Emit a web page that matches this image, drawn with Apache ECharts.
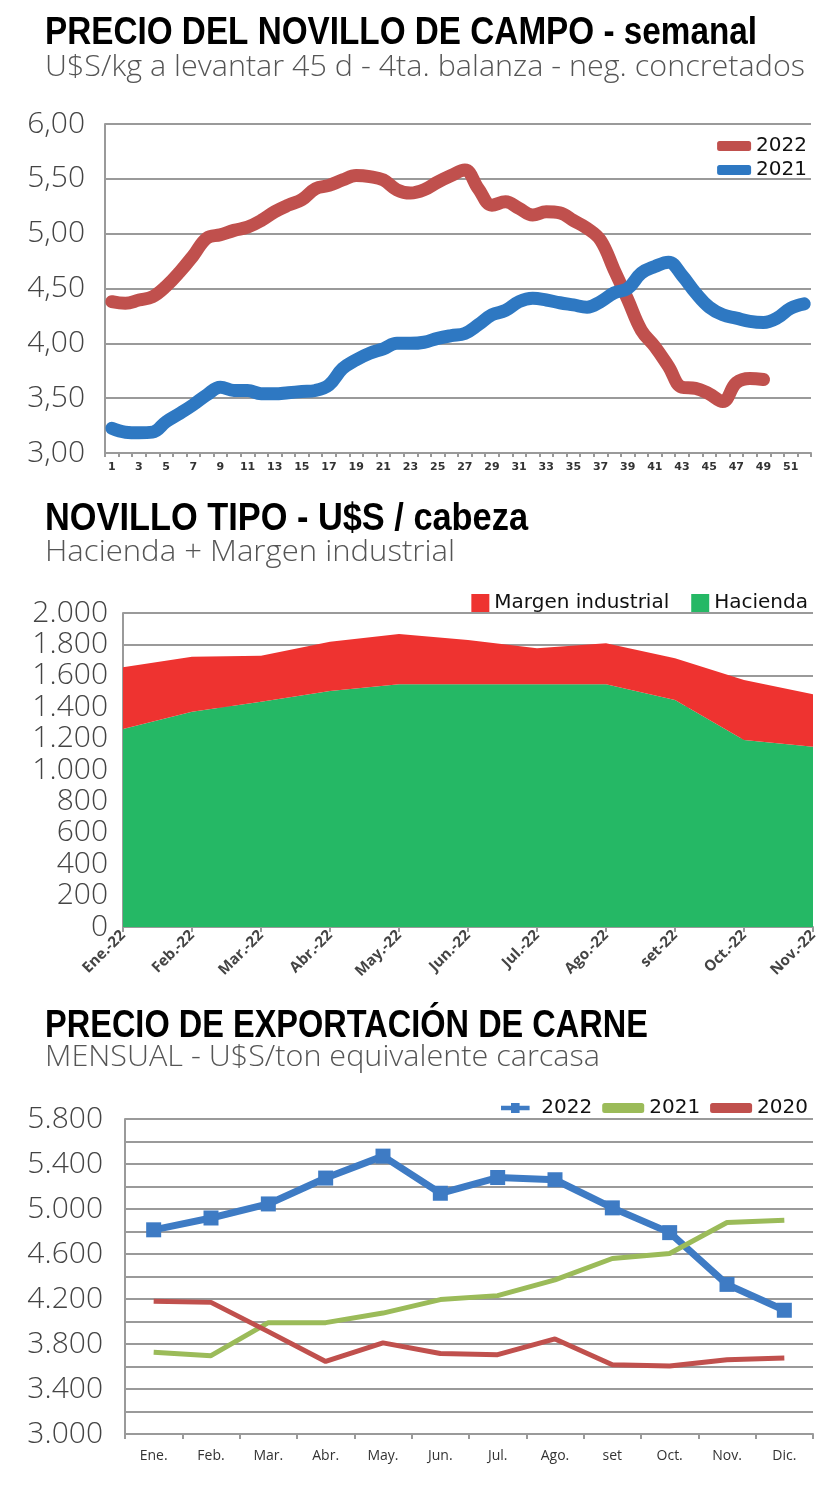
<!DOCTYPE html>
<html><head><meta charset="utf-8">
<script src="https://cdn.jsdelivr.net/npm/echarts@6/dist/echarts.min.js"></script>
<style>html,body{margin:0;padding:0;background:#fff}#c{width:840px;height:1495px}</style>
</head><body><div id="c"></div>
<script>
// ---- Chart 1: weekly steer price ----
const weeks = ['1','2','3','4','5','6','7','8','9','10','11','12','13','14','15','16','17','18','19','20','21','22','23','24','25','26','27','28','29','30','31','32','33','34','35','36','37','38','39','40','41','42','43','44','45','46','47','48','49','50','51','52'];
const precio2022 = [4.38,4.365,4.395,4.425,4.52,4.65,4.80,4.96,4.99,5.03,5.06,5.12,5.20,5.26,5.31,5.41,5.44,5.49,5.53,5.52,5.49,5.40,5.37,5.40,5.47,5.53,5.58,5.41,5.26,5.29,5.23,5.17,5.20,5.19,5.12,5.05,4.94,4.67,4.40,4.12,3.97,3.79,3.60,3.59,3.54,3.47,3.64,3.68,3.67];
const precio2021 = [3.225,3.19,3.185,3.19,3.285,3.36,3.44,3.53,3.60,3.57,3.57,3.54,3.54,3.55,3.56,3.57,3.62,3.77,3.85,3.91,3.95,4.00,4.00,4.01,4.045,4.07,4.09,4.17,4.26,4.30,4.38,4.41,4.395,4.37,4.35,4.33,4.38,4.46,4.50,4.64,4.70,4.74,4.62,4.46,4.33,4.26,4.23,4.20,4.19,4.23,4.32,4.36];

// ---- Chart 2: novillo tipo ----
const meses22 = ['Ene.-22','Feb.-22','Mar.-22','Abr.-22','May.-22','Jun.-22','Jul.-22','Ago.-22','set-22','Oct.-22','Nov.-22'];
const hacienda = [1261,1371,1435,1503,1546,1546,1546,1546,1446,1191,1148];
const margen = [393,351,293,314,320,282,229,261,265,382,334];

// ---- Chart 3: export price ----
const meses = ['Ene.','Feb.','Mar.','Abr.','May.','Jun.','Jul.','Ago.','set','Oct.','Nov.','Dic.'];
const exp2022 = [4815,4920,5045,5275,5470,5140,5280,5260,5010,4790,4330,4100];
const exp2021 = [3726,3696,3990,3990,4075,4195,4230,4370,4560,4605,4880,4900];
const exp2020 = [4180,4170,3910,3645,3810,3715,3705,3845,3615,3605,3660,3675];

const chart = echarts.init(document.getElementById('c'), null, {renderer:'canvas'});
const TF = "'Liberation Sans',Arial,sans-serif";
const LABF = "'Open Sans','Liberation Sans',sans-serif";
const LEGF = "'DejaVu Sans',sans-serif";
const gridLine = {show:true, lineStyle:{color:'#9a9a9a', width:2}};
const axLine = {show:true, lineStyle:{color:'#9a9a9a', width:2}};
const yLab = (m, fmt) => ({color:'#444', fontSize:30, fontFamily:LABF, fontWeight:300, margin:m, verticalAlign:'middle', padding:[0,0,20,0], formatter:fmt});
const dotThousands = v => { const s = String(Math.round(v)); return s.length>3 ? s.slice(0,s.length-3)+'.'+s.slice(-3) : s; };

const mctx = document.createElement('canvas').getContext('2d');
function title(text, x, y, w, size, bold, color){
  const font = (bold ? 'bold ' : '300 ') + size + 'px ' + (bold ? TF : LABF);
  mctx.font = font;
  const s = w / mctx.measureText(text).width;
  return {type:'text', x:x, y:y, scaleX:s, style:{text:text, font:font, fill:color, verticalAlign:'top', align:'left'}};
}

chart.setOption({
  animation:false,
  backgroundColor:'#fff',
  graphic:[
    title('PRECIO DEL NOVILLO DE CAMPO - semanal', 45, 15, 712, 38, true, '#000'),
    title('U$S/kg a levantar 45 d - 4ta. balanza - neg. concretados', 45, 53, 760, 29, false, '#555'),
    title('NOVILLO TIPO - U$S / cabeza', 45, 501, 483, 38, true, '#000'),
    title('Hacienda + Margen industrial', 45, 538, 410, 29, false, '#555'),
    title('PRECIO DE EXPORTACIÓN DE CARNE', 45, 1008, 603, 38, true, '#000'),
    title('MENSUAL - U$S/ton equivalente carcasa', 45, 1043, 555, 29, false, '#555')
  ],
  legend:[
    {data:[{name:'2022'},{name:'2021'}], orient:'vertical', right:28, top:131, itemGap:4,
     icon:'roundRect', itemWidth:34, itemHeight:10, textStyle:{fontSize:20, color:'#111', fontFamily:LEGF}},
    {data:['Margen industrial','Hacienda'], right:27, top:588, itemGap:22, icon:'rect', itemWidth:18, itemHeight:18,
     textStyle:{fontSize:20, color:'#111', fontFamily:LEGF}},
    {data:[{name:'E2022', icon:'path://M0,4L14,4L14,0L26,0L26,4L40,4L40,10L26,10L26,14L14,14L14,10L0,10Z'},{name:'E2021', icon:'roundRect'},{name:'E2020', icon:'roundRect'}],
     right:27, top:1093, itemGap:10, itemWidth:42, itemHeight:10,
     formatter: n => n.slice(1), textStyle:{fontSize:20, color:'#111', fontFamily:LEGF}}
  ],
  grid:[
    {left:105, right:29, top:124, height:329},
    {left:123, right:27, top:613, height:314},
    {left:125, right:27, top:1119, height:315}
  ],
  xAxis:[
    {gridIndex:0, type:'category', data:weeks, boundaryGap:true, axisLine:axLine,
     axisTick:{show:true, interval:0, length:4, lineStyle:{color:'#9a9a9a', width:2}},
     axisLabel:{interval:1, fontSize:11, fontWeight:'bold', color:'#333', margin:9, fontFamily:"'DejaVu Sans',sans-serif"},
     splitLine:{show:false}},
    {gridIndex:1, type:'category', data:meses22, boundaryGap:false, axisLine:axLine,
     axisTick:{show:true, length:5, lineStyle:{color:'#9a9a9a', width:2}},
     axisLabel:{interval:0, rotate:45, fontSize:15, fontWeight:'bold', color:'#444', margin:6, fontFamily:LABF},
     splitLine:{show:false}},
    {gridIndex:2, type:'category', data:meses, boundaryGap:true, axisLine:axLine,
     axisTick:{show:true, length:5, lineStyle:{color:'#9a9a9a', width:2}},
     axisLabel:{interval:0, fontSize:14, color:'#333', margin:15, fontFamily:LABF},
     splitLine:{show:false}}
  ],
  yAxis:[
    {gridIndex:0, type:'value', min:3, max:6, interval:0.5, axisLine:axLine, axisTick:{show:false},
     splitLine:gridLine, axisLabel:yLab(20, v => v.toFixed(2).replace('.',','))},
    {gridIndex:1, type:'value', min:0, max:2000, interval:200, axisLine:axLine, axisTick:{show:false},
     splitLine:gridLine, axisLabel:yLab(15, dotThousands)},
    {gridIndex:2, type:'value', min:3000, max:5800, interval:200, axisLine:axLine, axisTick:{show:false},
     splitLine:gridLine, axisLabel:yLab(22, v => ((v-3000)%400===0 ? dotThousands(v) : ''))}
  ],
  series:[
    {name:'2022', type:'line', xAxisIndex:0, yAxisIndex:0, data:precio2022, smooth:0.4, showSymbol:false,
     lineStyle:{width:13, color:'#C0504D', cap:'round', join:'round'}, itemStyle:{color:'#C0504D'}},
    {name:'2021', type:'line', xAxisIndex:0, yAxisIndex:0, data:precio2021, smooth:0.4, showSymbol:false,
     lineStyle:{width:13, color:'#2E78C2', cap:'round', join:'round'}, itemStyle:{color:'#2E78C2'}},

    {name:'Hacienda', type:'line', xAxisIndex:1, yAxisIndex:1, data:hacienda, stack:'nt', showSymbol:false,
     lineStyle:{width:0}, areaStyle:{color:'#25B865', opacity:1}, itemStyle:{color:'#25B865'}},
    {name:'Margen industrial', type:'line', xAxisIndex:1, yAxisIndex:1, data:margen, stack:'nt', showSymbol:false,
     lineStyle:{width:0}, areaStyle:{color:'#EE3330', opacity:1}, itemStyle:{color:'#EE3330'}},

    {name:'E2022', type:'line', xAxisIndex:2, yAxisIndex:2, data:exp2022, symbol:'rect', symbolSize:15,
     lineStyle:{width:7, color:'#3E7BC4'}, itemStyle:{color:'#3E7BC4'}},
    {name:'E2021', type:'line', xAxisIndex:2, yAxisIndex:2, data:exp2021, showSymbol:false,
     lineStyle:{width:5, color:'#9BBB59'}, itemStyle:{color:'#9BBB59'}},
    {name:'E2020', type:'line', xAxisIndex:2, yAxisIndex:2, data:exp2020, showSymbol:false,
     lineStyle:{width:5, color:'#C0504D'}, itemStyle:{color:'#C0504D'}}
  ]
});
</script></body></html>
